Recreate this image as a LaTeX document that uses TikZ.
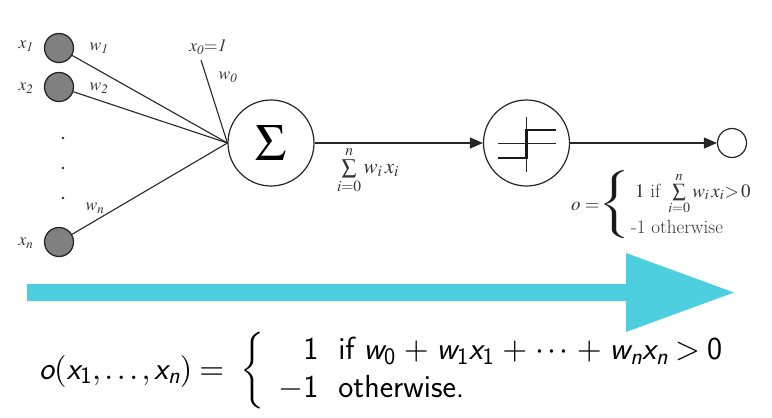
\documentclass[tikz,border=0pt]{standalone}
\usepackage{amsmath}
\usepackage{mathptmx}
\usepackage{graphicx}
\usepackage{fontspec}
\usetikzlibrary{arrows.meta}
\newcommand\Sl[1]{\text{\sffamily\slshape #1}}
\newcommand\Su[1]{\text{\sffamily #1}}
\definecolor{cyanarrow}{HTML}{4DCFE0}
\definecolor{inpgray}{HTML}{808080}
\tikzset{
  inp/.style={circle, draw=black!85, line width=1.3pt, fill=inpgray, minimum size=29pt, inner sep=0pt},
  unit/.style={circle, draw=black!85, line width=1.2pt, fill=white, minimum size=86pt, inner sep=0pt},
  outc/.style={circle, draw=black!85, line width=1.2pt, fill=white, minimum size=29pt, inner sep=0pt},
  wire/.style={draw=black!85, line width=1.1pt},
  flow/.style={draw=black!85, line width=1.1pt, -{Triangle[length=13pt,width=11pt]}},
  lbl/.style={font=\fontsize{17.5}{19}\selectfont, inner sep=0pt, text=black!80},
  olb/.style={font=\fontsize{19}{21}\selectfont, inner sep=0pt, text=black!80, anchor=base west},
  dotn/.style={circle, fill=black!85, minimum size=2.6pt, inner sep=0pt},
}
\begin{document}
\begin{tikzpicture}[x=1pt, y=-1pt]
\useasboundingbox (0,0) rectangle (772,418);
% input nodes
\node[inp] (x1) at (59,48) {};
\node[inp] (x2) at (59,87) {};
\node[inp] (xn) at (59,242) {};
\node[dotn] (d1) at (63,138) {};
\node[dotn] (d2) at (63,168) {};
\node[dotn] (d3) at (63,198) {};
% labels
\node[lbl] (lx1) at (26,46) {$x_{\mathit{1}}$};
\node[lbl] (lx2) at (26,88) {$x_{\mathit{2}}$};
\node[lbl] (lxn) at (26,243) {$x_{n}$};
\node[lbl] (lw1) at (99,48) {$w_{\mathit{1}}$};
\node[lbl] (lw2) at (99,88) {$w_{\mathit{2}}$};
\node[lbl] (lwn) at (95,208) {$w_{n}$};
\node[lbl] (lx0) at (208,47) {$x_{\mathit{0}}{=}\mathit{1}$};
\node[lbl] (lw0) at (228,77) {$w_{\mathit{0}}$};
% units
\node[unit] (sum) at (271,143) {\fontsize{52}{52}\selectfont$\Sigma$};
\node[unit] (step) at (526.5,143) {};
\node[outc] (out) at (732,143) {};
\coordinate (x0end) at (201,60);
% wires
\draw[wire] (x1) -- (sum.west);
\draw[wire] (x2) -- (sum.west);
\draw[wire] (xn) -- (sum.west);
\draw[wire] (x0end) -- (sum.west);
\draw[flow] (sum) -- (step);
\draw[flow] (step) -- (out);
% step symbol
\draw[line width=0.9pt, black!85] ([xshift=-29pt]step.center) -- ([xshift=29pt]step.center);
\draw[line width=0.9pt, black!85] ([yshift=26pt]step.center) -- ([yshift=-29pt]step.center);
\draw[line width=2.2pt, black!90] ([xshift=-29pt,yshift=-15pt]step.center) -- ([yshift=-15pt]step.center) -- ([yshift=13pt]step.center) -- ([xshift=29pt,yshift=13pt]step.center);
% sum label
\node[lbl, font=\fontsize{21}{23}\selectfont] (sumlbl) at (368,170) {$\sum\limits_{i=0}^{n} w_i\,x_i$};
% output formula
\node[olb] (oeq) at (571,210) {$o=$};
\node[inner sep=0pt, text=black!90] (obrace) at (616,205) {\fontsize{19}{21}\selectfont\scalebox{1.9}[1]{$\left\{\vrule height 31pt depth 31pt width 0pt\right.$}};
\node[olb] (oline1) at (635,197) {$\mathrm{1}\ \mbox{if}\ \sum\limits_{i=0}^{n} w_i\,x_i{>}\,0$};
\node[olb] (oline2) at (631,233) {-1 otherwise};
% big cyan arrow
\fill[cyanarrow] (27,284) -- (626,284) -- (626,253) -- (734,292.5) -- (626,332) -- (626,301) -- (27,301) -- cycle;
% bottom formula
\node[anchor=west, inner sep=0pt, font=\fontsize{32}{38}\selectfont] (perc) at (39,371)
  {$\medmuskip=4.5mu \Sl{o}(\Sl{x}_{\Su{1}},\ldots,\Sl{x}_{\Sl{n}}) =\hspace{9pt} \left\{\hspace{9pt}\begin{array}{r@{\hspace{20pt}}l}
    \Su{1} & \mbox{\sffamily if}\hspace{9pt} \Sl{w}_{\Su{0}} + \Sl{w}_{\Su{1}}\Sl{x}_{\Su{1}} + \cdots + \Sl{w}_{\Sl{n}}\Sl{x}_{\Sl{n}} > \Su{0}\\
    -\Su{1} & \mbox{\sffamily otherwise.}
  \end{array}\right.$};
\end{tikzpicture}
\end{document}
